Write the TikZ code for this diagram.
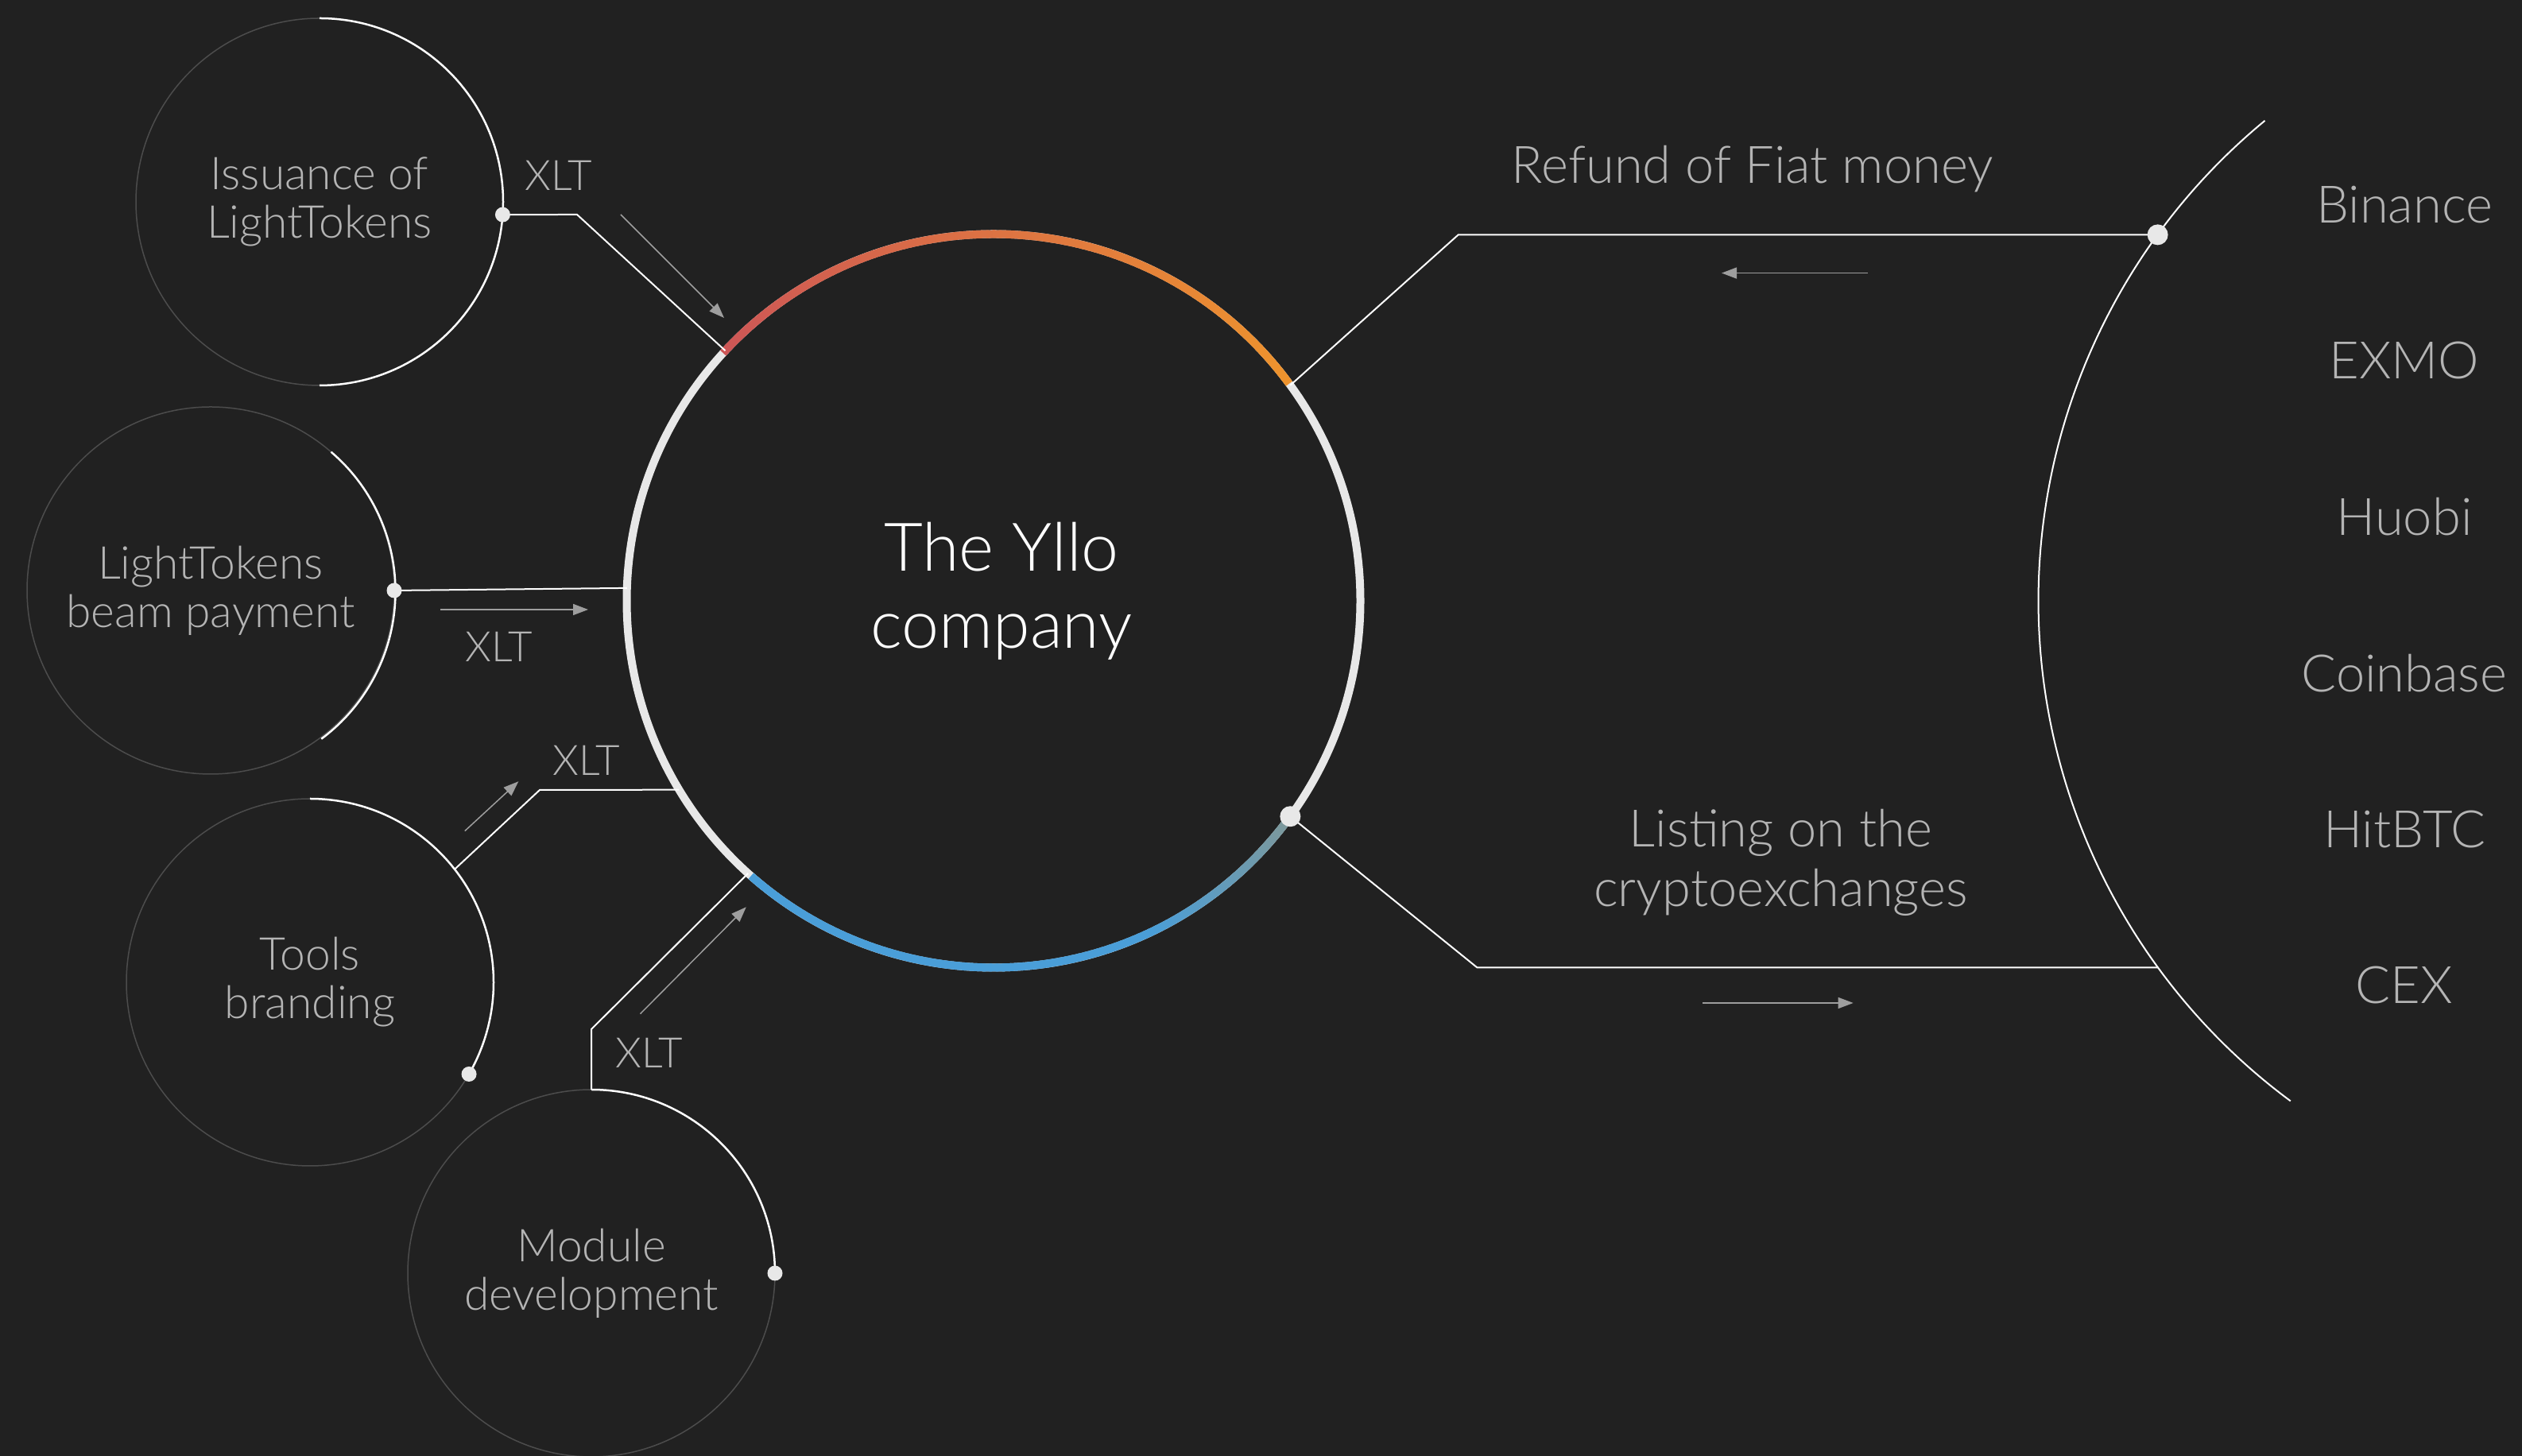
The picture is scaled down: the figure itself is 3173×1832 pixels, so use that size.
\documentclass[tikz,border=0pt]{standalone}
\usepackage{fontspec}
\IfFontExistsTF{Lato Light}{\setmainfont{Lato Light}}{\setmainfont{Lato}}
\usepackage{tikz}
\usetikzlibrary{positioning, arrows.meta, calc}

\definecolor{ybg}{HTML}{212121}
\definecolor{ygray}{HTML}{B4B4B4}
\definecolor{yrim}{HTML}{4C4C4C}
\definecolor{yring}{HTML}{E8E8E8}
\definecolor{yarrow}{HTML}{9E9E9E}
\definecolor{yred}{RGB}{205,86,86}
\definecolor{yorange}{RGB}{238,148,45}
\definecolor{yblue}{RGB}{74,158,216}
\definecolor{yteal}{RGB}{128,152,152}

\tikzset{
    bubble/.style={circle, draw=yrim, line width=0.15mm, minimum size=46.2mm,
        inner sep=0, outer sep=0, align=center, text=ygray,
        font=\fontsize{16.2}{17.4}\selectfont},
    title/.style={align=center, text=white, font=\fontsize{24}{27.6}\selectfont},
    tag/.style={text=ygray, font=\fontsize{15}{17}\selectfont},
    note/.style={align=center, text=ygray, font=\fontsize{18.5}{21.3}\selectfont},
    rim/.style={white, line width=0.25mm},
    wire/.style={white, line width=0.2mm},
    flow/.style={draw=yarrow, line width=0.15mm, -{Triangle[length=1.9mm, width=1.4mm]}}
}

\begin{document}
\begin{tikzpicture}[x=0.1mm, y=0.1mm]
    \fill[ybg] (0,0) rectangle (3173,1832);
    \useasboundingbox (0,0) rectangle (3173,1832);

    % company ring
    \node[circle, draw=yring, line width=1mm, minimum size=92.3mm, inner sep=0, outer sep=0] (main) at (1250,1076) {};
    \node[title] (yllo) at (1260,1088) {The Yllo\\company};

    \foreach \i in {0,...,99}
    {
        \pgfmathsetmacro\a{137.5-1.008*\i}
        \draw[line width=1mm, yorange!\i!yred]
            (main.center) ++(\a:461.5) arc[start angle=\a, delta angle=-1.4, radius=461.5];
    }
    \foreach \i in {0,...,95}
    {
        \pgfmathsetmacro\a{228.6+0.99375*\i}
        \pgfmathsetmacro\t{min(100,max(0,(\a-295)*100/29))}
        \draw[line width=1mm, yteal!\t!yblue]
            (main.center) ++(\a:461.5) arc[start angle=\a, delta angle=1.4, radius=461.5];
    }

    % sources
    \node[bubble] (c1) at (402,1578) {Issuance of\\LightTokens};
    \node[bubble] (c2) at (265,1089) {LightTokens\\beam payment};
    \node[bubble] (c3) at (390,596) {Tools\\branding};
    \node[bubble] (c4) at (744,230) {Module\\development};

    \draw[rim] (c1.90) arc[start angle=90, end angle=-90, radius=231];
    \draw[rim] (c2.49.5) arc[start angle=49.5, end angle=-53.4, radius=231];
    \draw[rim] (c3.90) arc[start angle=90, end angle=-30, radius=231];
    \draw[rim] (c4.90) arc[start angle=90, end angle=0, radius=231];

    % bends
    \coordinate (k1) at (726,1562);
    \coordinate (k3) at (679,838);
    \coordinate (k4) at (744,537);
    \coordinate (k5) at (1834.7,1536.6);
    \coordinate (k6) at (1858.5,614.5);
    \coordinate (d5) at (2714.6,1536.6);
    \coordinate (d6) at (2714.6,614.5);
    \coordinate (ex) at (3347.5,1076);

    \draw[wire] (c1.-4) -- (k1) -- (main.137.5);
    \draw[wire] (c2.0) -- (main.178.4);
    \draw[wire] (c3.38) -- (k3) -- (main.211);
    \draw[wire] (c4.90) -- (k4) -- (main.228.6);
    \draw[wire] (main.36.7) -- (k5) -- (d5);
    \draw[wire] (main.-36) -- (k6) -- (d6);

    % exchanges
    \draw[wire] (ex) ++(129.5:783) arc[start angle=129.5, end angle=233.5, radius=783];
    \foreach \name [count=\i from 0] in {Binance,EXMO,Huobi,Coinbase,HitBTC,CEX}
    {
        \node[note] (e\i) at (3025,{1574.5-196.4*\i}) {\name};
    }

    \foreach \p in {c1.-4, c2.0, c3.-30, c4.0}
    {
        \fill[yring] (\p) circle[radius=9.5];
    }
    \foreach \p in {main.-36, d5}
    {
        \fill[yring] (\p) circle[radius=13];
    }

    % flow arrows
    \coordinate (s1) at (781,1562);    \coordinate (t1) at (911,1432);
    \coordinate (s2) at (553.6,1065);  \coordinate (t2) at (740,1065);
    \coordinate (s3) at (584.8,786.4); \coordinate (t3) at (652.4,848.8);
    \coordinate (s4) at (805.5,556.3); \coordinate (t4) at (938.8,690.7);
    \coordinate (s5) at (2350,1488.4); \coordinate (t5) at (2166,1488.4);
    \coordinate (s6) at (2142,570);    \coordinate (t6) at (2331.6,570);
    \foreach \i in {1,...,6}
    {
        \draw[flow] (s\i) -- (t\i);
    }

    \node[tag] (x1) at (703,1611) {XLT};
    \node[tag] (x2) at (628,1018.5) {XLT};
    \node[tag] (x3) at (737.6,875.5) {XLT};
    \node[tag] (x4) at (817,507) {XLT};

    \node[note] (refund) at (2204.8,1619) {Refund of Fiat money};
    \node[note] (listing) at (2240.5,747) {Listing on the\\cryptoexchanges};
\end{tikzpicture}
\end{document}
